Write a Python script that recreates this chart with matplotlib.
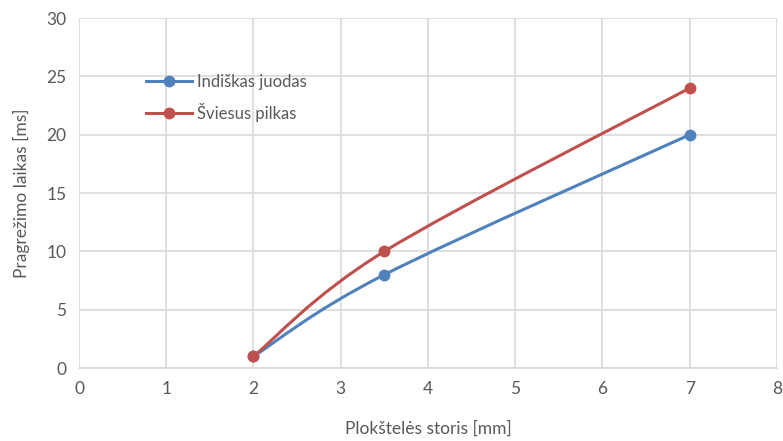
import numpy as np
import matplotlib
matplotlib.use("Agg")
import matplotlib.pyplot as plt
from matplotlib.path import Path
from matplotlib.patches import PathPatch
from matplotlib.lines import Line2D

plt.rcParams['font.family'] = ['Lato', 'DejaVu Sans']

thickness = [2, 3.5, 7]
indiskas_juodas = [1, 8, 20]
sviesus_pilkas = [1, 10, 24]
series_names = ["Indiškas juodas", "Šviesus pilkas"]
x_ticks = [0, 1, 2, 3, 4, 5, 6, 7, 8]
y_ticks = [0, 5, 10, 15, 20, 25, 30]

BLUE = "#4F81BD"
RED = "#C0504D"
GRID = "#D9D9D9"
TEXT = "#595959"

fig = plt.figure(figsize=(7.83, 4.41), dpi=100)
ax = fig.add_axes([0.1009, 0.1655, 0.8914, 0.7935])
ax.set_xlim(0, 8)
ax.set_ylim(0, 30)
ax.set_xticks(x_ticks)
ax.set_yticks(y_ticks)
ax.grid(True, color=GRID, linewidth=1.2)
ax.set_axisbelow(True)
for s in ax.spines.values():
    s.set_visible(False)
ax.spines['bottom'].set_visible(True)
ax.spines['bottom'].set_color(GRID)
ax.spines['bottom'].set_linewidth(1.2)
ax.tick_params(length=0, labelsize=12.5, labelcolor=TEXT, pad=9)
ax.set_xlabel("Plokštelės storis [mm]", fontsize=12.5, color=TEXT, labelpad=17)
ax.set_ylabel("Pragrežimo laikas [ms]", fontsize=12.5, color=TEXT, labelpad=12)


def smooth_path(xs, ys):
    """Cardinal-spline style smoothing computed in display space."""
    pts = ax.transData.transform(np.column_stack([xs, ys]))
    n = len(pts)
    ext = np.vstack([pts[0], pts, pts[-1]])
    verts = [pts[0]]
    codes = [Path.MOVETO]
    for i in range(n - 1):
        p0, p1, p2, p3 = ext[i], ext[i + 1], ext[i + 2], ext[i + 3]
        c1 = p1 + (p2 - p0) / 6.0
        c2 = p2 - (p3 - p1) / 6.0
        verts += [c1, c2, p2]
        codes += [Path.CURVE4] * 3
    inv = ax.transData.inverted()
    return Path(inv.transform(np.array(verts)), codes)


for ys, col in [(indiskas_juodas, BLUE), (sviesus_pilkas, RED)]:
    ax.add_patch(PathPatch(smooth_path(thickness, ys), facecolor='none',
                           edgecolor=col, linewidth=2.2, capstyle='round',
                           zorder=3))
    ax.plot(thickness, ys, linestyle='none', marker='o', markersize=7.5,
            color=col, zorder=4)

handles = [Line2D([], [], color=BLUE, linewidth=2.2, marker='o', markersize=7.5),
           Line2D([], [], color=RED, linewidth=2.2, marker='o', markersize=7.5)]
leg = ax.legend(handles, series_names, loc='upper left',
                bbox_to_anchor=(0.086, 0.86), frameon=False, fontsize=12,
                labelcolor=TEXT, handlelength=2.8, handletextpad=0.25,
                labelspacing=0.8, borderaxespad=0)

fig.savefig("out.png", dpi=100)
